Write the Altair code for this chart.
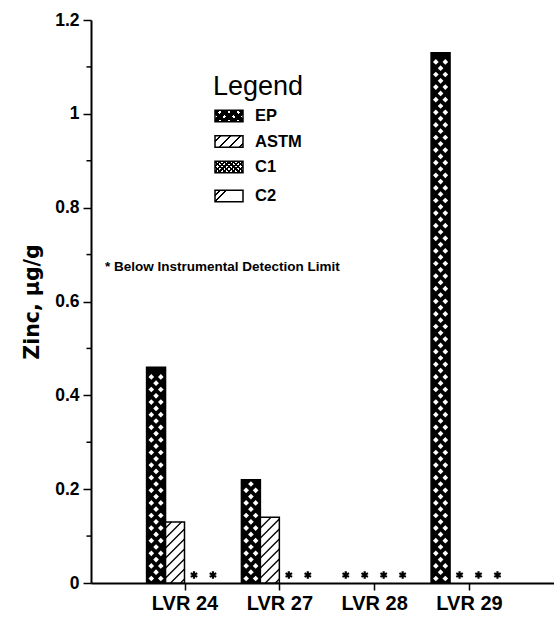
import json
import math
import altair as alt
import pandas as pd

# ---------------- data ----------------
CATEGORIES = ["LVR 24", "LVR 27", "LVR 28", "LVR 29"]
SERIES = ["EP", "ASTM", "C1", "C2"]
EP = [0.46, 0.22, None, 1.13]
ASTM = [0.13, 0.14, None, None]
C1 = [None, None, None, None]
C2 = [None, None, None, None]
Y_TICKS = [0, 0.2, 0.4, 0.6, 0.8, 1.0, 1.2]
Y_MINOR = [0.1, 0.3, 0.5, 0.7, 0.9, 1.1]
NOTE = "* Below Instrumental Detection Limit"
LEGEND_TITLE = "Legend"
Y_TITLE = "Zinc, \u03bcg/g"

VALUES = {"EP": EP, "ASTM": ASTM, "C1": C1, "C2": C2}

# ---------------- layout (pixels) ----------------
W, H = 463, 563
X0, X1 = 0.014, 4.896
PX_X = W / (X1 - X0)
PX_Y = H / 1.2
BAR = 0.2
FONT = "Liberation Sans"

rows = []
for i, cat in enumerate(CATEGORIES):
    for j, s in enumerate(SERIES):
        v = VALUES[s][i]
        xl = (i + 1) - 2 * BAR + BAR * j
        rows.append(dict(category=cat, series=s, value=v, xl=xl, xr=xl + BAR, xc=xl + BAR / 2))
df = pd.DataFrame(rows)

# crosshatch dots for EP bars (white diamonds on black)
dots = []
for r in rows:
    if r["series"] == "EP" and r["value"] is not None:
        top = r["value"] * PX_Y
        bw = BAR * PX_X
        j = 0
        ypx = 4.5
        while ypx <= top - 3.5:
            dxs = [bw * 0.25, bw * 0.75] if j % 2 == 0 else [bw * 0.5]
            for dx in dxs:
                dots.append(dict(x=r["xl"] + dx / PX_X, y=ypx / PX_Y))
            j += 1
            ypx += 6.3
dots_df = pd.DataFrame(dots)

# diagonal hatch for ASTM bars
segs = []
for r in rows:
    if r["series"] == "ASTM" and r["value"] is not None:
        top = r["value"] * PX_Y
        bw = BAR * PX_X
        c = -bw + 4.0
        while c < top:
            xa = max(0.0, -c)
            xb = min(bw, top - c)
            if xb > xa:
                segs.append(dict(x=r["xl"] + xa / PX_X, x2=r["xl"] + xb / PX_X,
                                 y=(xa + c) / PX_Y, y2=(xb + c) / PX_Y))
            c += 10.0
segs_df = pd.DataFrame(segs)

X_SCALE = alt.Scale(domain=[X0, X1], nice=False, zero=False)
Y_SCALE = alt.Scale(domain=[0, 1.2], nice=False)

label_expr = json.dumps(CATEGORIES) + "[round(datum.value) - 1]"
x_axis = alt.Axis(values=[1, 2, 3, 4], labelExpr=label_expr, title=None, grid=False,
                  tickSize=7, tickWidth=1.5, tickColor="black", domainColor="black",
                  domainWidth=2, labelFont=FONT, labelFontWeight="bold", labelFontSize=20,
                  labelColor="black", labelPadding=3, labelFlush=False, labelOverlap=False)
y_axis = alt.Axis(values=Y_TICKS, format="~g", title=Y_TITLE, grid=False,
                  tickSize=8, tickWidth=1.5, tickColor="black", domainColor="black",
                  domainWidth=2, labelFont=FONT, labelFontWeight="bold", labelFontSize=17.5,
                  labelColor="black", labelPadding=4, labelFlush=False,
                  titleFont="DejaVu Sans", titleFontWeight="bold", titleFontSize=20.5,
                  titleColor="black", titlePadding=12)


def X(field):
    return alt.X(field, scale=X_SCALE, axis=x_axis)


def Y(field):
    return alt.Y(field, scale=Y_SCALE, axis=y_axis)


base = alt.Chart(df)
ep_bars = base.transform_filter("datum.series == 'EP' && isValid(datum.value)").mark_rect(
    fill="black", stroke="black", strokeWidth=1.5
).encode(x=X("xl:Q"), x2="xr:Q", y=Y("value:Q"), y2=alt.datum(0))
ep_dots = alt.Chart(dots_df).mark_point(
    shape="diamond", filled=True, color="white", size=32, opacity=1, strokeWidth=0
).encode(x=X("x:Q"), y=Y("y:Q"))
astm_bars = base.transform_filter("datum.series == 'ASTM' && isValid(datum.value)").mark_rect(
    fill="white", stroke="black", strokeWidth=1.5
).encode(x=X("xl:Q"), x2="xr:Q", y=Y("value:Q"), y2=alt.datum(0))
astm_hatch = alt.Chart(segs_df).mark_rule(color="black", strokeWidth=1.3).encode(
    x=X("x:Q"), x2="x2:Q", y=Y("y:Q"), y2="y2:Q")
ASTERISK = "M0,-1L0,1M-0.866,-0.5L0.866,0.5M-0.866,0.5L0.866,-0.5"
stars = base.transform_filter("!isValid(datum.value)").mark_point(
    shape=ASTERISK, filled=False, color="black", strokeWidth=2.2, size=56, opacity=1, yOffset=-8
).encode(x=X("xc:Q"), y=alt.datum(0))
minor = alt.Chart(pd.DataFrame({"t": Y_MINOR})).mark_rule(color="black", strokeWidth=1.5).encode(
    y=Y("t:Q"), x=alt.value(-4.5), x2=alt.value(0))

# ---------------- legend and note (decoration, pixel placement) ----------------
CLEAR = "rgba(255,255,255,0)"


def stripe_gradient(w, h, ds, thick, color, direction):
    r = h / w
    s = (1 + r) / (1 + r * r)
    if direction == "/":
        x1, y1, x2, y2 = 0, 0, s, s * r
    else:
        x1, y1, x2, y2 = 1, 0, 1 - s, s * r
    total = w + h
    half = thick * math.sqrt(2) / 2
    stops = [{"offset": 0, "color": CLEAR}]
    for d in ds:
        a = max(0.0, (d - half) / total)
        b = min(1.0, (d + half) / total)
        if b <= a:
            continue
        stops += [{"offset": a, "color": CLEAR}, {"offset": a, "color": color},
                  {"offset": b, "color": color}, {"offset": b, "color": CLEAR}]
    stops.append({"offset": 1, "color": CLEAR})
    return {"gradient": "linear", "x1": x1, "y1": y1, "x2": x2, "y2": y2, "stops": stops}


one = alt.Data(values=[{}])
SW_X, SW_W, SW_H = 124, 28, 11.5
SW_Y = [96, 121.5, 147, 176]


def rect(yc, fill, stroke=None, sw=1.5):
    kw = dict(fill=fill)
    if stroke:
        kw.update(stroke=stroke, strokeWidth=sw)
    return alt.Chart(one).mark_rect(**kw).encode(
        x=alt.value(SW_X), x2=alt.value(SW_X + SW_W),
        y=alt.value(yc - SW_H / 2), y2=alt.value(yc + SW_H / 2))


def periodic(period, offset, total):
    out = []
    d = offset
    while d < total + period:
        out.append(d)
        d += period
    return out


tot = SW_W + SW_H
legend_layers = []
y = SW_Y[0]
legend_layers += [
    rect(y, "white"),
    rect(y, stripe_gradient(SW_W, SW_H, periodic(9.2, 2, tot), 3.9, "black", "/")),
    rect(y, stripe_gradient(SW_W, SW_H, periodic(9.2, 2, tot), 3.9, "black", "\\")),
    rect(y, "rgba(0,0,0,0)", "black"),
]
y = SW_Y[1]
legend_layers += [
    rect(y, "white"),
    rect(y, stripe_gradient(SW_W, SW_H, [6, 16, 26, 36], 1.4, "black", "/")),
    rect(y, "rgba(0,0,0,0)", "black"),
]
y = SW_Y[2]
legend_layers += [
    rect(y, "white"),
    rect(y, stripe_gradient(SW_W, SW_H, periodic(4.6, 1, tot), 1.6, "black", "/")),
    rect(y, stripe_gradient(SW_W, SW_H, periodic(4.6, 1, tot), 1.6, "black", "\\")),
    rect(y, "rgba(0,0,0,0)", "black"),
]
y = SW_Y[3]
legend_layers += [
    rect(y, "white"),
    rect(y, stripe_gradient(SW_W, SW_H, [5, 11], 1.4, "black", "/")),
    rect(y, "rgba(0,0,0,0)", "black"),
]
for s, yc in zip(SERIES, SW_Y):
    legend_layers.append(
        alt.Chart(alt.Data(values=[{"s": s}])).mark_text(
            font=FONT, fontWeight="bold", fontSize=16.5, color="black",
            align="left", baseline="middle"
        ).encode(x=alt.value(164), y=alt.value(yc), text="s:N")
    )
legend_title = alt.Chart(one).mark_text(
    font=FONT, fontSize=27, color="black", align="left", baseline="alphabetic"
).encode(x=alt.value(122), y=alt.value(75), text=alt.value(LEGEND_TITLE))
note = alt.Chart(one).mark_text(
    font=FONT, fontWeight="bold", fontSize=13.5, color="black", align="left", baseline="middle"
).encode(x=alt.value(14), y=alt.value(247), text=alt.value(NOTE))

chart = alt.layer(
    ep_bars, ep_dots, astm_bars, astm_hatch, stars, minor,
    legend_title, *legend_layers, note
).properties(
    width=W, height=H,
    padding={"left": 91, "top": 20, "right": 0, "bottom": 39},
    autosize=alt.AutoSizeParams(type="none"),
    background="white",
).configure_view(stroke=None)

chart.save("out.html", embed_options={"renderer": "svg", "actions": False})
